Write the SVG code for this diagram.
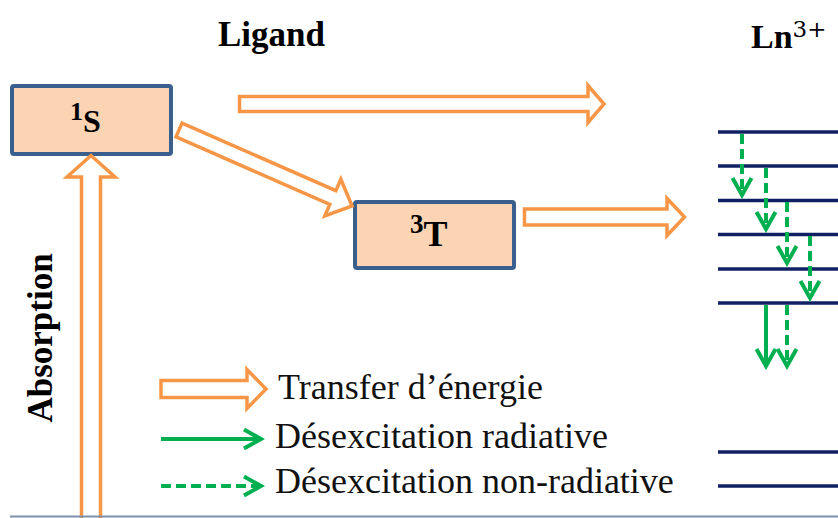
<svg xmlns="http://www.w3.org/2000/svg" width="838" height="518" viewBox="0 0 838 518">
<style>
.box{fill:#fbd4b4;stroke:#3b5f8c;stroke-width:4}
.tr{fill:#ffffff;stroke:#f79646;stroke-width:3.5;stroke-linejoin:miter}
.lvl{stroke:#0f2163;stroke-width:3.5}
.g{stroke:#00b050;stroke-width:4;fill:none}
.d{stroke-dasharray:10 5}
.bold{font-family:"Liberation Serif","Times New Roman",serif;font-weight:bold;fill:#000}
.reg{font-family:"Liberation Serif","Times New Roman",serif;fill:#111;font-size:36px}
</style>
<defs>
<marker id="chev" viewBox="-22 -12 26 24" markerWidth="26" markerHeight="24" refX="0" refY="0" orient="auto" markerUnits="userSpaceOnUse">
<path d="M-17,-9.5 L0,0 L-17,9.5" fill="none" stroke="#00b050" stroke-width="4" stroke-dasharray="none"/>
</marker>
</defs>
<rect width="838" height="518" fill="#ffffff"/>

<g id="title-ligand"><text class="bold" x="218" y="46" font-size="35">Ligand</text></g>
<g id="title-ln"><text class="bold" x="751" y="48" font-size="34">Ln<tspan font-family="DejaVu Serif,serif" font-weight="normal" font-size="23" dy="-11">3+</tspan></text></g>

<g id="node-1S">
<rect class="box" x="12" y="86" width="159" height="68" rx="2"/>
<text class="bold" x="70" y="132"><tspan font-size="26" dy="-12">1</tspan><tspan font-size="32" dy="12">S</tspan></text>
</g>

<g id="node-3T">
<rect class="box" x="355" y="202" width="159" height="66" rx="2"/>
<text class="bold" x="410" y="246"><tspan font-size="27" dy="-13">3</tspan><tspan font-size="36" dy="13">T</tspan></text>
</g>

<g id="node-ln-levels">
<line class="lvl" x1="718" y1="132" x2="838" y2="132"/>
<line class="lvl" x1="718" y1="166" x2="838" y2="166"/>
<line class="lvl" x1="718" y1="200.5" x2="838" y2="200.5"/>
<line class="lvl" x1="718" y1="234.5" x2="838" y2="234.5"/>
<line class="lvl" x1="718" y1="269" x2="838" y2="269"/>
<line class="lvl" x1="718" y1="303" x2="838" y2="303"/>
<line class="lvl" x1="718" y1="452" x2="838" y2="452"/>
<line class="lvl" x1="718" y1="486" x2="838" y2="486"/>
</g>

<g id="connectors">
<polygon class="tr" points="81.5,540 81.5,177 67,177 91,155.5 115,177 100.5,177 100.5,540"/>
<polygon class="tr" points="239.5,96.5 588,96.5 588,85.5 604,104 588,122.5 588,111.5 239.5,111.5"/>
<polygon class="tr" transform="translate(179,130) rotate(23.7)" points="0,-7.5 168,-7.5 168,-20 189,0 168,20 168,7.5 0,7.5"/>
<polygon class="tr" points="524.5,209 667,209 667,198.5 684.5,217 667,235.5 667,225 524.5,225"/>
<line class="g d" x1="742" y1="134" x2="742" y2="195" marker-end="url(#chev)"/>
<line class="g d" x1="766" y1="168" x2="766" y2="229" marker-end="url(#chev)"/>
<line class="g d" x1="787" y1="202" x2="787" y2="263" marker-end="url(#chev)"/>
<line class="g d" x1="810" y1="236" x2="810" y2="298" marker-end="url(#chev)"/>
<line class="g" x1="766" y1="305" x2="766" y2="366" marker-end="url(#chev)"/>
<line class="g d" x1="787" y1="305" x2="787" y2="366" marker-end="url(#chev)"/>
</g>

<g id="label-absorption"><text class="bold" font-size="35" text-anchor="middle" transform="translate(52,338) rotate(-90)">Absorption</text></g>

<g id="legend">
<polygon class="tr" points="161,380.5 247,380.5 247,369.5 266,389 247,408.5 247,397.5 161,397.5"/>
<line class="g" x1="161" y1="439" x2="261" y2="439" marker-end="url(#chev)"/>
<line class="g d" x1="161" y1="486" x2="261" y2="486" marker-end="url(#chev)"/>
<text class="reg" x="278" y="399">Transfer d’énergie</text>
<text class="reg" x="275" y="448">Désexcitation radiative</text>
<text class="reg" x="275" y="493">Désexcitation non-radiative</text>
</g>

<line x1="10" y1="516.5" x2="838" y2="516.5" stroke="#7f8fae" stroke-width="2"/>
</svg>
